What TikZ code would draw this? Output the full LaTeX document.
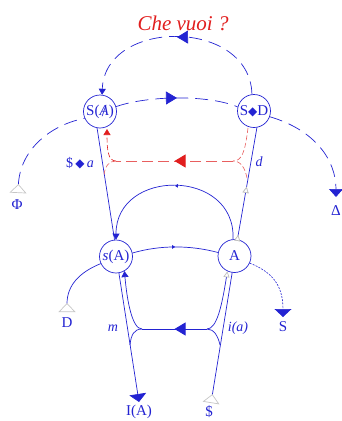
\documentclass[tikz,border=0pt]{standalone}
\usepackage{fontspec}
\setmainfont{Liberation Serif}
\newfontfamily\dejavu{DejaVu Sans}
\usetikzlibrary{arrows.meta,decorations.markings}
\definecolor{lblue}{RGB}{35,35,210}
\definecolor{lred}{RGB}{225,30,30}
\definecolor{lpink}{RGB}{232,95,95}
\newcommand\lozg{\raisebox{0.3pt}{\dejavu\fontsize{12}{12}\selectfont ◆}}
\newcommand\barA{\ooalign{\textit{A}\cr\hidewidth\raisebox{-1pt}{\fontsize{17}{17}\selectfont/}\hidewidth\cr}}
\begin{document}
\begin{tikzpicture}[x=1pt,y=-1pt,
  every node/.style={inner sep=0pt, text=lblue},
  circ/.style={draw=lblue, circle, minimum size=33pt, line width=0.7pt, font=\fontsize{15}{15}\selectfont},
  lab/.style={font=\fontsize{15}{15}\selectfont},
  ilab/.style={font=\itshape\fontsize{14}{14}\selectfont},
  ln/.style={draw=lblue, line width=0.7pt},
  dsh/.style={ln, dash pattern=on 13pt off 7pt},
  rdsh/.style={draw=lpink, line width=0.7pt, dash pattern=on 11pt off 5pt},
  rdsh2/.style={draw=lpink, line width=0.6pt, dash pattern=on 5pt off 2.5pt},
  midb/.style={postaction={decorate}, decoration={markings, mark=at position #1 with {\arrow[lblue]{Triangle[width=13pt,length=11pt]}}}},
  midr/.style={postaction={decorate}, decoration={markings, mark=at position #1 with {\arrow[lred]{Triangle[width=13pt,length=11pt]}}}},
  midtick/.style={postaction={decorate}, decoration={markings, mark=at position #1 with {\arrow[lblue]{Triangle[width=3.5pt,length=3pt]}}}},
  midopen/.style={postaction={decorate}, decoration={markings, mark=at position #1 with {\arrow{Triangle[width=6pt,length=6pt,fill=white,color=gray!50]}}}},
  smalltip/.style={-{Triangle[width=7pt,length=6pt]}},
  bigtip/.style={-{Triangle[width=17pt,length=8pt]}},
  opentip/.style={{Triangle[reversed,width=17pt,length=9pt,fill=white,color=gray!45]}-},
]
\useasboundingbox (0,0) rectangle (341,421);

% title
\node[text=lred, font=\itshape\fontsize{21}{21}\selectfont] (che) at (183,23) {Che vuoi ?};

% circles
\node[circ] (SA) at (100,111.5) {\makebox[0pt]{S(\barA)}};
\node[circ] (SD) at (254,111) {\makebox[0pt]{S\lozg D}};
\node[circ] (sA) at (116,256.5) {\makebox[0pt]{\textit{s}(A)}};
\node[circ] (A) at (234.5,256) {\makebox[0pt]{A}};

% end coordinates
\coordinate (phi) at (18,193);
\coordinate (delta) at (336,197);
\coordinate (Db) at (67,312);
\coordinate (Stip) at (283,317);
\coordinate (IA) at (139,402);
\coordinate (Sb) at (211,403);
\coordinate (rR) at (233,161);
\coordinate (rL) at (116,161);
\coordinate (rRup) at (248,128);
\coordinate (rRlo) at (247,178);
\coordinate (rLup) at (107,129);
\coordinate (rLlo) at (104,175);
\coordinate (jL) at (142,329);
\coordinate (jR) at (207,329);
\coordinate (mLlo) at (130,345);
\coordinate (mRlo) at (220,345);

% labels
\node[lab] (philab) at (17,205) {Φ};
\node[lab] (deltalab) at (336,211) {Δ};
\node[lab] (Dlab) at (67,323) {D};
\node[lab] (Slab) at (283,327) {S};
\node[lab] (IAlab) at (139,412) {I(A)};
\node[lab] (Sblab) at (209,412) {\$};
\node[ilab] (mlab) at (113,328) {m};
\node[ilab] (ialab) at (238,328) {i(a)};
\node[font=\fontsize{14}{14}\selectfont] (sdla) at (80,163) {\$\,\lozg\,\textit{a}};
\node[ilab] (dlab) at (259,162) {d};

% upper dashed arcs
\draw[dsh, midb=0.5, smalltip] (SD.97) .. controls (250,18) and (105,18) .. (SA.83);
\draw[dsh, opentip] (phi) .. controls (20,150) and (50,125) .. (SA.204);
\draw[dsh, midb=0.5] (SA.17) .. controls (150,95) and (210,95) .. (SD.166);
\draw[dsh, -{Triangle[width=14pt,length=8pt]}] (SD.340) .. controls (315,130) and (336,160) .. (delta);

% verticals
\draw[ln] (SA.260) -- (sA.95);
\draw[ln, midopen=0.47, midopen=0.04] (A.80) -- (SD.280);

% red retroaction
\draw[rdsh, midr=0.5] (rR) -- (rL);
\draw[rdsh2] (rRup) .. controls (245,152) and (242,161) .. (rR);
\draw[rdsh2] (rRlo) .. controls (245,168) and (241,161) .. (rR);
\draw[rdsh2, -{Triangle[width=7pt,length=6pt]}, lred] (rL) .. controls (108,161) and (107,150) .. (rLup);
\draw[rdsh2] (rL) .. controls (109,161) and (105,166) .. (rLlo);

% middle arcs
\draw[ln, midtick=0.5, smalltip] (A.95) .. controls (236,168) and (116,168) .. (sA.90);
\draw[ln, midtick=0.5] (sA.12) .. controls (160,245) and (190,245) .. (A.168);

% lower part
\draw[ln, bigtip] (sA.280) -- (IA);
\draw[ln, opentip] (Sb) -- (A.262);
\draw[ln, midb=0.5] (jR) -- (jL);
\draw[ln, smalltip] (jL) .. controls (132,329) and (127,300) .. (sA.300);
\draw[ln] (jL) .. controls (134,329) and (131,335) .. (mLlo);
\draw[ln, -{Triangle[width=6pt,length=6pt,fill=white,color=gray!50]}] (jR) .. controls (217,329) and (222,305) .. (A.245);
\draw[ln] (jR) .. controls (214,329) and (218,336) .. (mRlo);

% side branches
\draw[ln, opentip] (Db) .. controls (67,285) and (80,272) .. (sA.205);
\draw[draw=lblue, line width=0.6pt, dash pattern=on 2pt off 1.2pt, bigtip] (A.335) .. controls (272,272) and (283,285) .. (Stip);
\end{tikzpicture}
\end{document}
